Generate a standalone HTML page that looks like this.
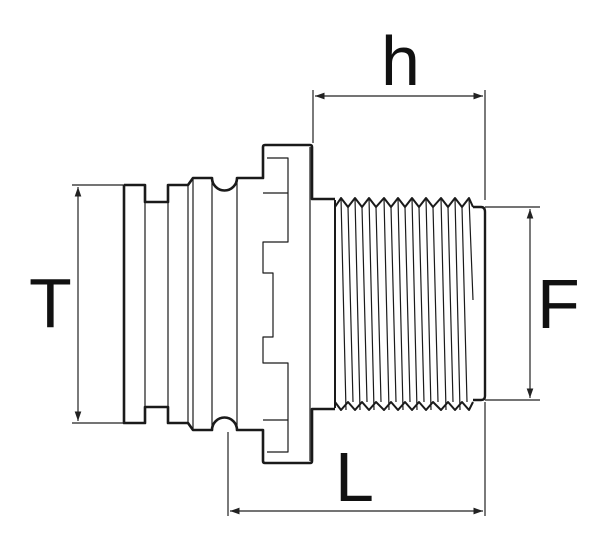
<!DOCTYPE html>
<html><head><style>
html,body{margin:0;padding:0;background:#fff;width:600px;height:559px;overflow:hidden}
svg{display:block}
text{font-family:"Liberation Sans",sans-serif;fill:#111}
</style></head><body>
<svg width="600" height="559" viewBox="0 0 600 559">
<defs>
<marker id="a" viewBox="0 0 10 10" refX="10" refY="5" markerWidth="8" markerHeight="8" orient="auto-start-reverse"><path d="M0,1.5 L10,5 L0,8.5 z" fill="#222"/></marker>
</defs>
<g fill="none" stroke="#1a1a1a" stroke-linejoin="round">
<path stroke-width="2.6" d="M124,185 H145 V202 H168 V185 H188 L193,178 H212 A12.5,12.5 0 0 0 237,178 H263 V147 Q263,145 265,145 H310 Q312,145 312,147 V199 H335"/>
<path stroke-width="2.6" d="M335,409 H312 V461 Q312,463 310,463 H265 Q263,463 263,461 V430 H237 A12.5,12.5 0 0 0 212,430 H193 L188,423 H168 V407 H145 V423 H124 V185"/>
<path stroke-width="2.4" d="M473,207 H481 Q485,207 485,212 V396 Q485,400 481,400 H473"/>
<path stroke-width="2" d="M335,207 L341,198 L348,207 L355,198 L362,207 L369,198 L376,207 L384,198 L391,207 L398,198 L405,207 L412,198 L419,207 L426,198 L433,207 L441,198 L448,207 L455,198 L462,207 L469,198 L473,207"/>
<path stroke-width="2" d="M335,402 L341,410 L348,402 L355,410 L362,402 L369,410 L376,402 L384,410 L391,402 L398,410 L405,402 L412,410 L419,402 L426,410 L433,402 L441,410 L448,402 L455,410 L462,402 L469,410 L473,402"/>
<path stroke-width="2" d="M335,200 V408"/>
<g stroke-width="1.2">
<path d="M341,198 L346,410 M348,207 L353,402 M355,198 L360,410 M362,207 L367,402 M369,198 L374,410 M376,207 L381,402 M384,198 L389,410 M391,207 L396,402 M398,198 L403,410 M405,207 L410,402 M412,198 L417,410 M419,207 L424,402 M426,198 L431,410 M433,207 L438,402 M441,198 L446,410 M448,207 L453,402 M455,198 L460,410 M462,207 L467,402 M469,198 L473,300"/>
<path d="M145,202 V407 M168,185 V423 M188,185 V423 M193,178 V430 M212,178 V430 M237,178 V430 M310,147 V461"/>
<path d="M267,158 H288 V193 H263 M288,193 V242 H263 V273 H273 V337 H263 V363 H288 V420 H263 M288,420 V452 H267"/>
</g>
</g>
<g stroke="#222" stroke-width="1.2" fill="none">
<path d="M72,185 H124 M72,423 H124"/>
<path d="M78,187 V421" marker-start="url(#a)" marker-end="url(#a)"/>
<path d="M485,207 H540 M485,400 H540"/>
<path d="M530,209 V398" marker-start="url(#a)" marker-end="url(#a)"/>
<path d="M313,90 V143 M485,90 V200"/>
<path d="M315,96 H483" marker-start="url(#a)" marker-end="url(#a)"/>
<path d="M228,432 V516 M485,402 V516"/>
<path d="M230,511 H483" marker-start="url(#a)" marker-end="url(#a)"/>
</g>
<text x="29" y="327" font-size="70">T</text>
<text x="537" y="328" font-size="70">F</text>
<text x="381" y="85" font-size="70">h</text>
<text x="335" y="501" font-size="70">L</text>
</svg>
</body></html>
